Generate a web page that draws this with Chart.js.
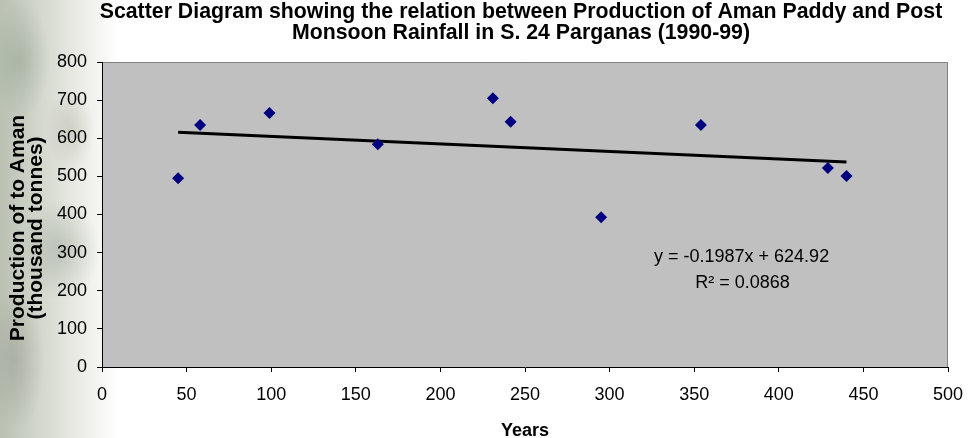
<!DOCTYPE html>
<html>
<head>
<meta charset="utf-8">
<script src="https://cdn.jsdelivr.net/npm/chart.js@4/dist/chart.umd.min.js"></script>
<style>
html, body { margin: 0; padding: 0; }
body {
    width: 969px; height: 438px; overflow: hidden;
    background:
        radial-gradient(ellipse 30px 60px at 20px 60px, rgba(120,140,120,0.35), rgba(255,255,255,0)),
        radial-gradient(ellipse 40px 50px at 60px 250px, rgba(110,125,105,0.30), rgba(255,255,255,0)),
        radial-gradient(ellipse 30px 70px at 15px 360px, rgba(130,130,120,0.35), rgba(255,255,255,0)),
        radial-gradient(ellipse 25px 40px at 70px 130px, rgba(150,150,130,0.30), rgba(255,255,255,0)),
        linear-gradient(to right, #b9c1b3 0px, #d3d7cd 40px, #ebece6 80px, #ffffff 118px);
}
#wrap { position: relative; width: 969px; height: 438px; }
</style>
</head>
<body>
<div id="wrap"><canvas id="chart" width="969" height="438"></canvas></div>
<script>
// DADOS
const rainfall = [45, 58, 99, 163, 231, 241.5, 295, 354, 429, 440];
const production = [495, 635, 666, 584, 705, 643, 393, 635, 522, 501];
const trendSlope = -0.1987;
const trendIntercept = 624.92;
const xTicks = [0, 50, 100, 150, 200, 250, 300, 350, 400, 450, 500];
const yTicks = [0, 100, 200, 300, 400, 500, 600, 700, 800];
const titleLines = ["Scatter Diagram showing the relation between Production of Aman Paddy and Post",
                    "Monsoon Rainfall in S. 24 Parganas (1990-99)"];
const yTitleLines = ["Production of to Aman", "(thousand tonnes)"];
const xTitle = "Years";
const eqLines = ["y = -0.1987x + 624.92", "R\u00B2 = 0.0868"];

const FONT = "'Liberation Sans', Arial, sans-serif";

const points = rainfall.map((x, i) => ({ x: x, y: production[i] }));
const xMin = Math.min(...rainfall), xMax = Math.max(...rainfall);
const trend = [
    { x: xMin, y: trendSlope * xMin + trendIntercept },
    { x: xMax, y: trendSlope * xMax + trendIntercept }
];

// FUNDO E BORDA DA ÁREA DO GRÁFICO
const plotBg = {
    id: "plotBg",
    beforeDraw(chart) {
        const { ctx, chartArea: a } = chart;
        ctx.save();
        ctx.fillStyle = "#c0c0c0";
        ctx.fillRect(a.left, a.top, a.right - a.left, a.bottom - a.top);
        ctx.strokeStyle = "#808080";
        ctx.lineWidth = 1;
        ctx.beginPath();
        ctx.moveTo(a.left, a.top + 0.5);
        ctx.lineTo(a.right - 0.5, a.top + 0.5);
        ctx.lineTo(a.right - 0.5, a.bottom);
        ctx.stroke();
        ctx.restore();
    }
};

// TÍTULOS E EQUAÇÃO
const texts = {
    id: "texts",
    afterDraw(chart) {
        const { ctx, chartArea: a } = chart;
        ctx.save();
        ctx.fillStyle = "#000";
        ctx.textAlign = "center";
        ctx.textBaseline = "middle";
        ctx.font = "bold 21.3px " + FONT;
        ctx.fillText(titleLines[0], 521, 12);
        ctx.fillText(titleLines[1], 521, 33);

        ctx.font = "bold 18px " + FONT;
        ctx.fillText(xTitle, (a.left + a.right) / 2, 431);

        ctx.save();
        ctx.translate(0, 228);
        ctx.rotate(-Math.PI / 2);
        ctx.font = "bold 21px " + FONT;
        ctx.fillText(yTitleLines[0], 0, 18);
        ctx.fillText(yTitleLines[1], 0, 36);
        ctx.restore();

        ctx.font = "18px " + FONT;
        const w = a.right - a.left, h = a.bottom - a.top;
        ctx.fillText(eqLines[0], a.left + w * 0.756, a.top + h * 0.639);
        ctx.fillText(eqLines[1], a.left + w * 0.757, a.top + h * 0.725);
        ctx.restore();
    }
};

new Chart(document.getElementById("chart"), {
    type: "scatter",
    data: {
        datasets: [
            {
                label: "Production",
                data: points,
                pointStyle: "rectRot",
                pointRadius: 6,
                pointHoverRadius: 6,
                backgroundColor: "#000080",
                borderColor: "#000080",
                borderWidth: 0,
                order: 1
            },
            {
                label: "Trend",
                type: "line",
                data: trend,
                showLine: true,
                borderColor: "#000",
                borderWidth: 3,
                pointRadius: 0,
                fill: false,
                order: 2
            }
        ]
    },
    options: {
        responsive: false,
        animation: false,
        events: [],
        layout: { padding: { top: 62, right: 21, left: 0, bottom: 0 } },
        plugins: { legend: { display: false }, title: { display: false }, tooltip: { enabled: false } },
        scales: {
            x: {
                type: "linear",
                min: 0, max: 500,
                afterBuildTicks: s => { s.ticks = xTicks.map(v => ({ value: v })); },
                afterFit: s => { s.height = 71; s.paddingRight = 0; s.paddingLeft = 0; },
                border: { color: "#000", width: 1 },
                grid: { drawOnChartArea: false, drawTicks: true, tickLength: 5, color: "#000" },
                ticks: { color: "#000", padding: 12, font: { family: FONT, size: 18 } }
            },
            y: {
                type: "linear",
                min: 0, max: 800,
                afterBuildTicks: s => { s.ticks = yTicks.map(v => ({ value: v })); },
                afterFit: s => { s.width = 102; },
                border: { color: "#000", width: 1 },
                grid: { drawOnChartArea: false, drawTicks: true, tickLength: 5, color: "#000" },
                ticks: { color: "#000", padding: 10, font: { family: FONT, size: 18 } }
            }
        }
    },
    plugins: [plotBg, texts]
});
</script>
</body>
</html>
